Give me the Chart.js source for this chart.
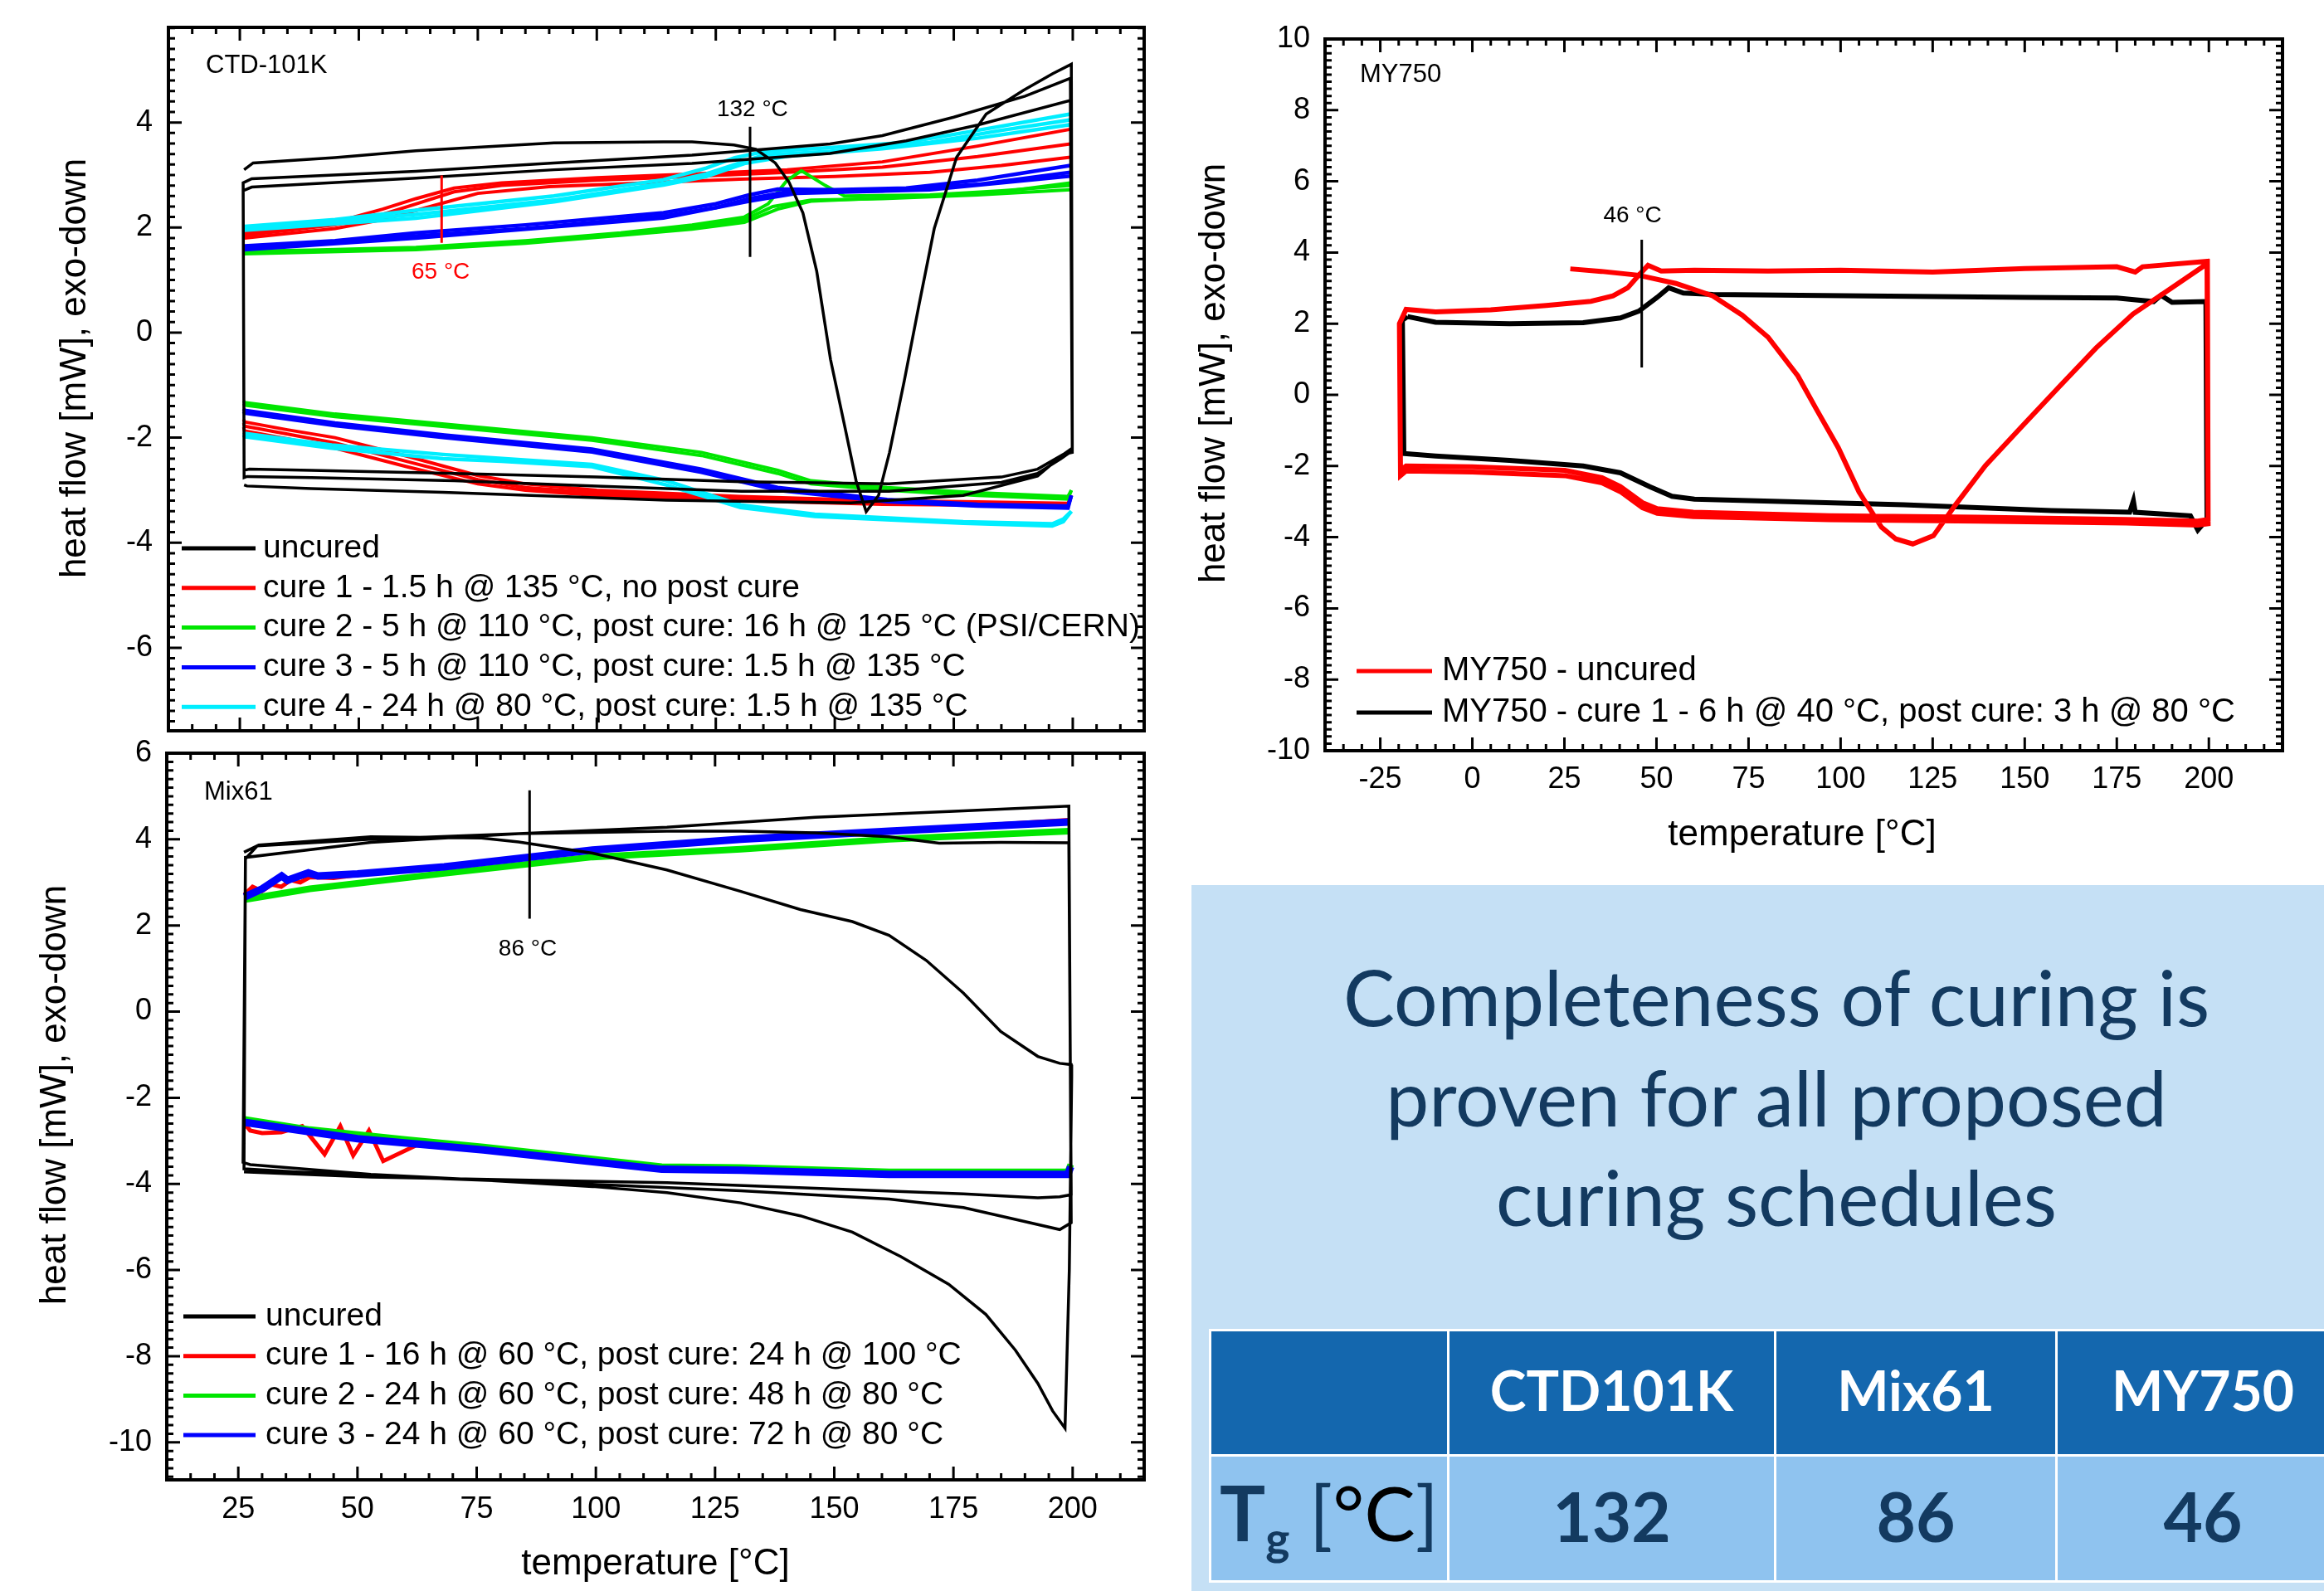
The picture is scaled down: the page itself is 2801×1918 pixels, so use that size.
<!DOCTYPE html>
<html>
<head>
<meta charset="utf-8">
<script src="https://cdn.jsdelivr.net/npm/chart.js@4.4.1/dist/chart.umd.min.js"></script>
<style>
html, body { margin: 0; padding: 0; }
body { width: 2801px; height: 1918px; overflow: hidden; background: #fff; position: relative; }
canvas { position: absolute; }
#ctd { left: 0; top: -10px; }
#mix { left: 0; top: 868px; }
#my { left: 1400px; top: 0; }
#panel { position: absolute; left: 1436px; top: 1067px; width: 1365px; height: 851px; background: #c5e0f5; }
.msg { position: absolute; left: 1441px; width: 1400px; text-align: center; white-space: nowrap; font-family: Lato, sans-serif; color: #133a60; line-height: 1.2; }
#tg { position: absolute; left: 1457px; top: 1602px; width: 1373px; border-collapse: collapse; table-layout: fixed; font-family: Lato, sans-serif; }
#tg td { border: 3px solid #fff; text-align: center; vertical-align: middle; padding: 0 0 8px 0; white-space: nowrap; }
#tg tr.head td { background: #1467ae; color: #fff; font-weight: bold; font-size: 66px; height: 140px; }
#tg tr.val td { background: #8fc3ef; color: #133a60; font-weight: bold; font-size: 82px; height: 141px; }
#tg tr.val td.lab { font-size: 92px; font-weight: normal; }
#tg td.lab b { font-weight: bold; }
#tg td.lab sub { font-size: 60%; vertical-align: -0.3em; font-weight: bold; }
</style>
</head>
<body>
<canvas id="ctd" width="1400" height="936"></canvas>
<canvas id="mix" width="1400" height="1050"></canvas>
<canvas id="my" width="1401" height="1060"></canvas>
<div id="panel"></div>
<table id="tg"></table>
<script>
// DSC traces: temperature in °C, heat flow in mW (exo-down)

// ---- CTD-101K ----
const ctdUncuredT = [25.9, 27.8, 45, 62, 91, 114, 120, 128.8, 133.4, 137.5, 140.4, 143.3, 146.2, 149.1, 152.2, 154.5, 156.6, 159.2, 161.5, 164.6, 167.7, 170.9, 175.6, 181.8, 189.6, 195.8, 199.7,
  199.9, 198, 192.6, 185, 161.4, 130.4, 100, 70, 40, 27, 25.9,
  25.7, 27.5, 62, 91, 120, 149, 160, 175, 190, 199.5,
  199.9, 197.5, 192.6, 185, 161.4, 130.4, 100, 70, 40, 26.5, 25.9,
  25.7, 27.5, 62, 91, 120, 149, 165, 180, 199.5,
  199.9, 198, 192.6, 177, 153.4, 114.6, 67.7, 40, 26.5, 25.9];
const ctdUncuredQ = [3.1, 3.23, 3.33, 3.46, 3.61, 3.63, 3.63, 3.57, 3.49, 3.23, 2.86, 2.28, 1.17, -0.51, -1.83, -2.83, -3.41, -3.1, -2.28, -0.92, 0.53, 1.98, 3.34, 4.16, 4.61, 4.93, 5.11,
  -2.2, -2.32, -2.6, -2.75, -2.88, -2.84, -2.75, -2.68, -2.62, -2.6, -2.62,
  2.85, 2.93, 3.07, 3.23, 3.38, 3.59, 3.75, 4.1, 4.5, 4.84,
  -2.25, -2.4, -2.68, -2.85, -3.02, -3.02, -2.92, -2.82, -2.76, -2.74, -2.76,
  2.7, 2.77, 2.94, 3.1, 3.22, 3.41, 3.65, 3.95, 4.42,
  -2.28, -2.32, -2.73, -3.1, -3.24, -3.19, -3.04, -2.97, -2.92, -2.9];

const ctdCure1T = [26, 35, 45, 55, 62, 70, 80, 100, 120, 140, 160, 180, 199.5,
  199.7, 199, 180, 160, 130, 100, 85, 75, 60, 45, 35, 26, 25.8,
  26, 45, 55, 62, 70, 80, 100, 120, 140, 160, 180, 199.5,
  199.7, 199, 160, 130, 100, 85, 75, 60, 45, 35, 26, 25.8,
  26, 45, 55, 65, 75, 90, 110, 130, 150, 170, 185, 199.5,
  199.7, 199, 160, 130, 100, 85, 75, 60, 45, 35, 26, 25.8];
const ctdCure1Q = [1.9, 1.95, 2.1, 2.35, 2.55, 2.75, 2.85, 2.95, 3.02, 3.1, 3.25, 3.55, 3.87,
  -3.1, -3.25, -3.22, -3.2, -3.12, -3.0, -2.88, -2.72, -2.35, -2.0, -1.85, -1.7, -1.65,
  1.85, 2.05, 2.25, 2.45, 2.68, 2.8, 2.9, 2.97, 3.05, 3.15, 3.35, 3.59,
  -3.1, -3.28, -3.24, -3.17, -3.05, -2.95, -2.8, -2.45, -2.1, -1.93, -1.78, -1.72,
  1.8, 1.98, 2.15, 2.4, 2.65, 2.78, 2.85, 2.92, 2.97, 3.05, 3.18, 3.34,
  -3.1, -3.3, -3.27, -3.2, -3.1, -3.0, -2.88, -2.55, -2.2, -2.02, -1.87, -1.8];

const ctdCure2T = [26, 40, 62, 85, 105, 120, 131, 136, 140, 143, 148, 152, 170, 185, 199.5,
  199.7, 199, 180, 161, 145, 138, 122, 99, 68, 45, 26, 25.8,
  26, 62, 85, 105, 120, 131, 137, 145, 160, 180, 199.5,
  199.7, 199, 180, 161, 145, 138, 122, 99, 68, 45, 26, 25.8,
  26, 62, 85, 105, 120, 131, 138, 145, 165, 185, 199.5];
const ctdCure2Q = [1.55, 1.57, 1.62, 1.75, 1.9, 2.05, 2.2, 2.45, 2.9, 3.08, 2.8, 2.6, 2.62, 2.7, 2.8,
  -3.0, -3.12, -3.05, -2.95, -2.82, -2.62, -2.28, -2.0, -1.74, -1.55, -1.33, -1.3,
  1.52, 1.6, 1.72, 1.88, 2.0, 2.15, 2.4, 2.52, 2.55, 2.62, 2.72,
  -3.0, -3.17, -3.1, -3.0, -2.88, -2.68, -2.34, -2.05, -1.79, -1.6, -1.38, -1.35,
  1.5, 1.58, 1.7, 1.85, 1.97, 2.1, 2.35, 2.5, 2.58, 2.68, 2.85];

const ctdCure3T = [26, 45, 62, 85, 114, 125, 132, 138, 150, 165, 180, 199.5,
  199.7, 199, 180, 161, 138, 122, 99, 68, 45, 26, 25.8,
  26, 62, 85, 114, 125, 132, 140, 160, 180, 199.5,
  199.7, 199, 180, 161, 138, 122, 99, 68, 45, 26, 25.8,
  26, 62, 114, 132, 142, 170, 199.5];
const ctdCure3Q = [1.65, 1.75, 1.9, 2.05, 2.28, 2.45, 2.62, 2.73, 2.72, 2.75, 2.9, 3.18,
  -3.1, -3.3, -3.27, -3.18, -2.95, -2.6, -2.22, -1.95, -1.72, -1.48, -1.45,
  1.6, 1.84, 1.98, 2.22, 2.38, 2.55, 2.68, 2.7, 2.82, 3.05,
  -3.1, -3.34, -3.3, -3.22, -3.0, -2.66, -2.27, -2.0, -1.77, -1.53, -1.5,
  1.58, 1.8, 2.18, 2.5, 2.65, 2.72, 2.98];

const ctdCure4T = [26, 45, 62, 91, 114, 123, 129, 135, 149, 165, 180, 199.5,
  199.7, 198, 195.7, 177, 145.8, 130.2, 114.6, 99, 67.7, 44.3, 26, 25.8,
  26, 62, 91, 114, 123, 129, 135, 149, 170, 185, 199.5,
  199.7, 198, 195.7, 177, 145.8, 130.2, 114.6, 99, 80, 67.7, 44.3, 26, 25.8,
  26, 62, 91, 114, 123, 131, 140, 160, 180, 199.5];
const ctdCure4Q = [2.02, 2.15, 2.33, 2.6, 2.91, 3.13, 3.33, 3.44, 3.52, 3.62, 3.85, 4.16,
  -3.4, -3.55, -3.64, -3.6, -3.46, -3.28, -2.82, -2.51, -2.32, -2.14, -1.92, -1.9,
  1.98, 2.25, 2.52, 2.84, 3.02, 3.2, 3.38, 3.45, 3.62, 3.85, 4.05,
  -3.4, -3.6, -3.68, -3.63, -3.5, -3.33, -2.9, -2.55, -2.45, -2.4, -2.2, -1.98, -1.95,
  1.95, 2.18, 2.49, 2.81, 2.97, 3.22, 3.36, 3.5, 3.7, 3.96];

const ctdTgT = [132.2, 132.2], ctdTgQ = [3.92, 1.44];
const ctdRedT = [67.4, 67.4], ctdRedQ = [2.99, 1.71];

// ---- Mix61 ----
const mixUncuredT = [26.2, 29.3, 52.8, 76, 83.8, 99.3, 114.9, 130.4, 142.9, 153.8, 161.5, 169.3, 177.1, 184.9, 192.7, 197.3, 199.7,
  199.8, 199.3, 198.4, 195.8, 192.7, 188, 181.8, 174, 164, 153.8, 142.9, 130.4, 114.9, 99.3, 76, 52.8, 27.5, 26,
  26.5, 29, 52.8, 83.8, 114.9, 146, 177.1, 199.2,
  199.7, 197.3, 189.5, 177.1, 161.5, 130.4, 99.3, 68.2, 37.1, 26.2,
  26.5, 52.8, 83.8, 114.9, 130.4, 146, 161.5, 172, 184.9, 199.2,
  199.7, 197.3, 192.7, 177.1, 146, 114.9, 83.8, 52.8, 26.2];
const mixUncuredQ = [3.7, 3.87, 4.06, 4.03, 3.94, 3.68, 3.29, 2.79, 2.37, 2.09, 1.77, 1.19, 0.43, -0.46, -1.04, -1.2, -1.23,
  -1.5, -6, -9.67, -9.27, -8.63, -7.86, -7.03, -6.33, -5.69, -5.12, -4.74, -4.44, -4.2, -4.06, -3.91, -3.78, -3.55, -3.5,
  3.55, 3.85, 4.0, 4.13, 4.28, 4.51, 4.66, 4.77,
  -4.9, -5.06, -4.86, -4.55, -4.35, -4.16, -4.01, -3.88, -3.72, -3.65,
  3.58, 3.93, 4.13, 4.19, 4.19, 4.15, 4.06, 3.91, 3.93, 3.92,
  -4.25, -4.3, -4.32, -4.23, -4.1, -3.97, -3.91, -3.84, -3.72];

const mixCure1T = [26.3, 28, 30, 32, 34, 36, 38, 40, 45, 52, 68.2, 99.3, 130.4, 161.5, 199.2,
  199.6, 199, 161.5, 130.4, 113.8, 76.4, 62.4, 55.4, 52.4, 49.1, 46.4, 43.1, 38.4, 34, 30, 27.5, 26.3, 26.3];
const mixCure1Q = [2.72, 2.9, 2.8, 2.95, 2.9, 3.05, 3.0, 3.12, 3.1, 3.2, 3.36, 3.75, 4.0, 4.19, 4.45,
  -3.6, -3.75, -3.8, -3.7, -3.66, -3.21, -3.1, -3.47, -2.76, -3.34, -2.66, -3.31, -2.66, -2.8, -2.82, -2.76, -2.6, 2.72];

const mixCure2T = [26.3, 40, 68.2, 99.3, 130.4, 161.5, 199.2, 199.6, 199, 161.5, 130.4, 113.8, 76.4, 60, 40, 26.3, 26.3];
const mixCure2Q = [2.6, 2.85, 3.21, 3.59, 3.77, 4.0, 4.19, -3.55, -3.72, -3.72, -3.62, -3.6, -3.14, -2.97, -2.74, -2.5, 2.6];

const mixCure3T = [26.3, 30, 34.1, 35.3, 39.7, 41.7, 50, 68.2, 99.3, 130.4, 161.5, 199.2, 199.6, 199, 161.5, 130.4, 113.8, 76.4, 50, 26.3, 26.3];
const mixCure3Q = [2.66, 2.85, 3.15, 3.05, 3.22, 3.15, 3.2, 3.36, 3.75, 4.0, 4.19, 4.4, -3.6, -3.78, -3.78, -3.68, -3.66, -3.21, -2.95, -2.57, 2.66];

const mixTgT = [86.1, 86.1], mixTgQ = [5.14, 2.16];

// ---- MY750 ----
const myUncuredT = [26.6, 35, 45.2, 55.3, 65.3, 73.3, 80.3, 88.4, 93.4, 99.4, 105, 111.1, 115, 119.6, 125.2, 131.2, 139.3, 149.3, 159.3, 169.4, 179.4, 189.5, 199.6,
  199.8, 197, 177.5, 137.3, 97, 60, 50.2, 46.2, 40.2, 35.2, 25.1, 0, -18, -19.5,
  -19.8, -18, -10, 5, 20.1, 32.2, 38.2, 42.2, 45.2, 47.7, 51.3, 60.3, 80.3, 100, 125, 150, 175, 180, 182, 199.5,
  199.8, 197, 177.5, 137.3, 97, 60, 50.2, 46.2, 40.2, 35.2, 25.1, 0, -18, -19.5];
const myUncuredQ = [3.54, 3.47, 3.36, 3.13, 2.78, 2.24, 1.62, 0.53, -0.4, -1.49, -2.73, -3.72, -4.05, -4.19, -3.96, -3.09, -1.99, -0.88, 0.22, 1.32, 2.27, 2.98, 3.69,
  -3.62, -3.66, -3.6, -3.55, -3.51, -3.42, -3.33, -3.17, -2.72, -2.47, -2.27, -2.17, -2.14, -2.27,
  2.0, 2.4, 2.33, 2.39, 2.51, 2.63, 2.78, 3.01, 3.36, 3.64, 3.48, 3.5, 3.48, 3.5, 3.45, 3.55, 3.6, 3.45, 3.6, 3.75,
  -3.5, -3.55, -3.5, -3.44, -3.4, -3.3, -3.2, -3.03, -2.58, -2.33, -2.12, -2.02, -2.0, -2.12];

const myCure1T = [-17.6, -10, 10.1, 30.1, 40.2, 45.2, 50.2, 53.3, 57.3, 65.3, 107, 150, 175, 185, 187, 190, 199.2,
  199.5, 197, 195, 180, 179.5, 178.5, 157.3, 117.1, 60.3, 54.2, 48.2, 40.2, 30.1, 10.1, -10, -18.6, -19, -17.6];
const myCure1Q = [2.2, 2.04, 2.0, 2.03, 2.16, 2.35, 2.74, 3.01, 2.86, 2.82, 2.78, 2.74, 2.72, 2.62, 2.8, 2.6, 2.62,
  -3.5, -3.8, -3.4, -3.3, -2.98, -3.3, -3.25, -3.09, -2.93, -2.85, -2.58, -2.19, -2.0, -1.84, -1.72, -1.65, 2.1, 2.2];

const myTgT = [46, 46], myTgQ = [4.36, 0.77];

// tick labels
const tempTicks = [25, 50, 75, 100, 125, 150, 175, 200];
const myTempTicks = [-25, 0, 25, 50, 75, 100, 125, 150, 175, 200];
const ctdFlowTicks = [-6, -4, -2, 0, 2, 4];
const mixFlowTicks = [-10, -8, -6, -4, -2, 0, 2, 4, 6];
const myFlowTicks = [-10, -8, -6, -4, -2, 0, 2, 4, 6, 8, 10];

// summary table
const resins = ['CTD101K', 'Mix61', 'MY750'];
const tgValues = [132, 86, 46];
const message = ['Completeness of curing is', 'proven for all proposed', 'curing schedules'];

Chart.defaults.font.family = "'Liberation Sans', Arial, sans-serif";
Chart.defaults.color = '#000';

const xy = (t, q) => t.map((v, i) => ({x: v, y: q[i]}));
// the jumps at 25 / 200 °C of the cured runs sit under the black trace, so they are not stroked
const hideJump = c => (Math.abs(c.p0.x - c.p1.x) < 6 && Math.abs(c.p0.y - c.p1.y) > 60) ? 'rgba(0,0,0,0)' : undefined;
const trace = (label, t, q, color, width, order, hide) => ({
  label: label, data: xy(t, q), showLine: true, borderColor: color, backgroundColor: color,
  borderWidth: width, pointRadius: 0, tension: 0, order: order,
  segment: hide ? {borderColor: hideJump} : undefined
});

const RED = '#ff0000', GREEN = '#00e600', BLUE = '#0000ff', CYAN = '#00eeff';

// per-chart decoration (pixel positions inside each canvas)
const decor = {
  ctd: {
    xMajor: 25, xMinor: 5, yMajor: 2, yMinor: 0.2,
    name: 'CTD-101K', nameX: 248, nameY: 89,
    yTitle: [103, 454], xTitle: null,
    legend: {x0: 219, x1: 308, tx: 317, y0: 671, dy: 47.8, size: 39},
    notes: [{text: '132 °C', t: 132.7, q: 4.25, color: '#000'}, {text: '65 °C', t: 67.2, q: 1.15, color: RED}]
  },
  mix: {
    xMajor: 25, xMinor: 5, yMajor: 2, yMinor: 0.2,
    name: 'Mix61', nameX: 246, nameY: 87,
    yTitle: [79, 452], xTitle: [790, 1030],
    legend: {x0: 221, x1: 308, tx: 320, y0: 719, dy: 47.7, size: 39},
    notes: [{text: '86 °C', t: 85.7, q: 1.45, color: '#000'}]
  },
  my: {
    xMajor: 25, xMinor: 5, yMajor: 2, yMinor: 0.2,
    name: 'MY750', nameX: 239, nameY: 90,
    yTitle: [76, 450], xTitle: [772, 1019],
    legend: {x0: 235, x1: 326, tx: 338, y0: 809, dy: 50, size: 40},
    notes: [{text: '46 °C', t: 43.5, q: 5.03, color: '#000'}]
  }
};

// boxed frame with inward major/minor ticks on all four sides
const framePlugin = {
  id: 'frame',
  afterDatasetsDraw(chart) {
    const c = decor[chart.canvas.id];
    const {ctx, chartArea: a} = chart;
    const sx = chart.scales.x, sy = chart.scales.y;
    const isMajor = (v, m) => Math.abs(v / m - Math.round(v / m)) < 1e-6;
    ctx.save();
    ctx.strokeStyle = '#000';
    ctx.lineWidth = 3;
    ctx.beginPath();
    for (let n = Math.ceil(sx.min / c.xMinor - 1e-9); n * c.xMinor <= sx.max + 1e-9; n++) {
      const v = n * c.xMinor, p = sx.getPixelForValue(v), len = isMajor(v, c.xMajor) ? 16 : 8;
      ctx.moveTo(p, a.bottom); ctx.lineTo(p, a.bottom - len);
      ctx.moveTo(p, a.top); ctx.lineTo(p, a.top + len);
    }
    for (let n = Math.ceil(sy.min / c.yMinor - 1e-9); n * c.yMinor <= sy.max + 1e-9; n++) {
      const v = n * c.yMinor, p = sy.getPixelForValue(v), len = isMajor(v, c.yMajor) ? 16 : 8;
      ctx.moveTo(a.left, p); ctx.lineTo(a.left + len, p);
      ctx.moveTo(a.right, p); ctx.lineTo(a.right - len, p);
    }
    ctx.stroke();
    ctx.lineWidth = 4;
    ctx.strokeRect(a.left, a.top, a.right - a.left, a.bottom - a.top);
    ctx.restore();
  }
};

// titles, sample name, Tg notes and the in-plot legend
const decorPlugin = {
  id: 'decor',
  afterDraw(chart) {
    const c = decor[chart.canvas.id];
    const ctx = chart.ctx;
    const sx = chart.scales.x, sy = chart.scales.y;
    const fam = "'Liberation Sans', Arial, sans-serif";
    ctx.save();
    ctx.fillStyle = '#000';
    ctx.textBaseline = 'middle';
    ctx.textAlign = 'left';
    ctx.font = '31px ' + fam;
    ctx.fillText(c.name, c.nameX, c.nameY);

    ctx.textAlign = 'center';
    ctx.font = '28px ' + fam;
    c.notes.forEach(n => {
      ctx.fillStyle = n.color;
      ctx.fillText(n.text, sx.getPixelForValue(n.t), sy.getPixelForValue(n.q));
    });

    ctx.fillStyle = '#000';
    ctx.font = '44px ' + fam;
    ctx.textBaseline = 'alphabetic';
    if (c.xTitle) ctx.fillText('temperature [°C]', c.xTitle[0], c.xTitle[1]);
    ctx.save();
    ctx.translate(c.yTitle[0], c.yTitle[1]);
    ctx.rotate(-Math.PI / 2);
    ctx.fillText('heat flow [mW], exo-down', 0, 0);
    ctx.restore();

    const L = c.legend;
    ctx.font = L.size + 'px ' + fam;
    ctx.textAlign = 'left';
    ctx.textBaseline = 'middle';
    ctx.lineWidth = 5;
    chart.data.datasets.filter(d => d.label).forEach((d, i) => {
      const y = L.y0 + i * L.dy;
      ctx.strokeStyle = d.borderColor;
      ctx.beginPath(); ctx.moveTo(L.x0, y); ctx.lineTo(L.x1, y); ctx.stroke();
      ctx.fillStyle = '#000';
      ctx.fillText(d.label, L.tx, y);
    });
    ctx.restore();
  }
};

function scales(xMin, xMax, xTicks, showX, xHeight, xPad, yMin, yMax, yTicks, yWidth, yPad) {
  return {
    x: {
      type: 'linear', min: xMin, max: xMax,
      afterBuildTicks: s => { s.ticks = xTicks.map(v => ({value: v})); },
      afterFit: s => { s.height = xHeight; },
      grid: {display: false, drawTicks: false}, border: {display: false},
      ticks: {display: showX, autoSkip: false, maxRotation: 0, padding: xPad, color: '#000', font: {size: 36}}
    },
    y: {
      type: 'linear', min: yMin, max: yMax,
      afterBuildTicks: s => { s.ticks = yTicks.map(v => ({value: v})); },
      afterFit: s => { s.width = yWidth; },
      grid: {display: false, drawTicks: false}, border: {display: false},
      ticks: {autoSkip: false, padding: yPad, color: '#000', font: {size: 36}}
    }
  };
}

const common = {
  responsive: false, animation: false, devicePixelRatio: 1,
  plugins: {legend: {display: false}, tooltip: {enabled: false}}
};

new Chart(document.getElementById('ctd'), {
  type: 'scatter',
  data: {
    datasets: [
      trace('uncured', ctdUncuredT, ctdUncuredQ, '#000', 3.5, 1),
      trace('cure 1 - 1.5 h @ 135 °C, no post cure', ctdCure1T, ctdCure1Q, RED, 4, 5, true),
      trace('cure 2 - 5 h @ 110 °C, post cure: 16 h @ 125 °C (PSI/CERN)', ctdCure2T, ctdCure2Q, GREEN, 4, 4, true),
      trace('cure 3 - 5 h @ 110 °C, post cure: 1.5 h @ 135 °C', ctdCure3T, ctdCure3Q, BLUE, 4.5, 3, true),
      trace('cure 4 - 24 h @ 80 °C, post cure: 1.5 h @ 135 °C', ctdCure4T, ctdCure4Q, CYAN, 4.5, 2, true),
      trace('', ctdTgT, ctdTgQ, '#000', 3, 0),
      trace('', ctdRedT, ctdRedQ, RED, 3, 0)
    ]
  },
  options: Object.assign({}, common, {
    layout: {padding: {top: 43, right: 21, left: 0, bottom: 0}},
    scales: scales(10, 215, tempTicks, false, 45, 14, -7.58, 5.81, ctdFlowTicks, 203, 19)
  }),
  plugins: [framePlugin, decorPlugin]
});

new Chart(document.getElementById('mix'), {
  type: 'scatter',
  data: {
    datasets: [
      trace('uncured', mixUncuredT, mixUncuredQ, '#000', 3.5, 1),
      trace('cure 1 - 16 h @ 60 °C, post cure: 24 h @ 100 °C', mixCure1T, mixCure1Q, RED, 5, 4, true),
      trace('cure 2 - 24 h @ 60 °C, post cure: 48 h @ 80 °C', mixCure2T, mixCure2Q, GREEN, 8, 3, true),
      trace('cure 3 - 24 h @ 60 °C, post cure: 72 h @ 80 °C', mixCure3T, mixCure3Q, BLUE, 9, 2, true),
      trace('', mixTgT, mixTgQ, '#000', 3, 0)
    ]
  },
  options: Object.assign({}, common, {
    layout: {padding: {top: 40, right: 21, left: 0, bottom: 0}},
    scales: scales(10, 215, tempTicks, true, 134, 14, -10.87, 6, mixFlowTicks, 201, 18)
  }),
  plugins: [framePlugin, decorPlugin]
});

new Chart(document.getElementById('my'), {
  type: 'scatter',
  data: {
    datasets: [
      trace('MY750 - uncured', myUncuredT, myUncuredQ, RED, 6, 1),
      trace('MY750 - cure 1 - 6 h @ 40 °C, post cure: 3 h @ 80 °C', myCure1T, myCure1Q, '#000', 6, 2),
      trace('', myTgT, myTgQ, '#000', 3, 0)
    ]
  },
  options: Object.assign({}, common, {
    layout: {padding: {top: 47, right: 50, left: 0, bottom: 0}},
    scales: scales(-40, 220, myTempTicks, true, 155, 13, -10, 10, myFlowTicks, 197, 18)
  }),
  plugins: [framePlugin, decorPlugin]
});

// conclusion text, sized to the width of the first line
const meas = document.createElement('canvas').getContext('2d');
meas.font = '100px Lato';
const fs = 100 * 1046 / meas.measureText(message[0]).width;
const lineMid = [1214, 1335, 1455];
message.forEach((txt, i) => {
  const d = document.createElement('div');
  d.className = 'msg';
  d.textContent = txt;
  d.style.fontSize = fs + 'px';
  d.style.top = (lineMid[i] - 0.734 * fs) + 'px';
  document.body.appendChild(d);
});

// Tg table
const tbl = document.getElementById('tg');
tbl.innerHTML = '<colgroup><col style="width:287px"><col style="width:394px"><col style="width:339px"><col style="width:353px"></colgroup>' +
  '<tr class="head"><td></td>' + resins.map(r => '<td>' + r + '</td>').join('') + '</tr>' +
  '<tr class="val"><td class="lab"><b>T<sub>g</sub></b> [<span style="color:#000">°C</span>]</td>' +
  tgValues.map(v => '<td>' + v + '</td>').join('') + '</tr>';
</script>
</body>
</html>
